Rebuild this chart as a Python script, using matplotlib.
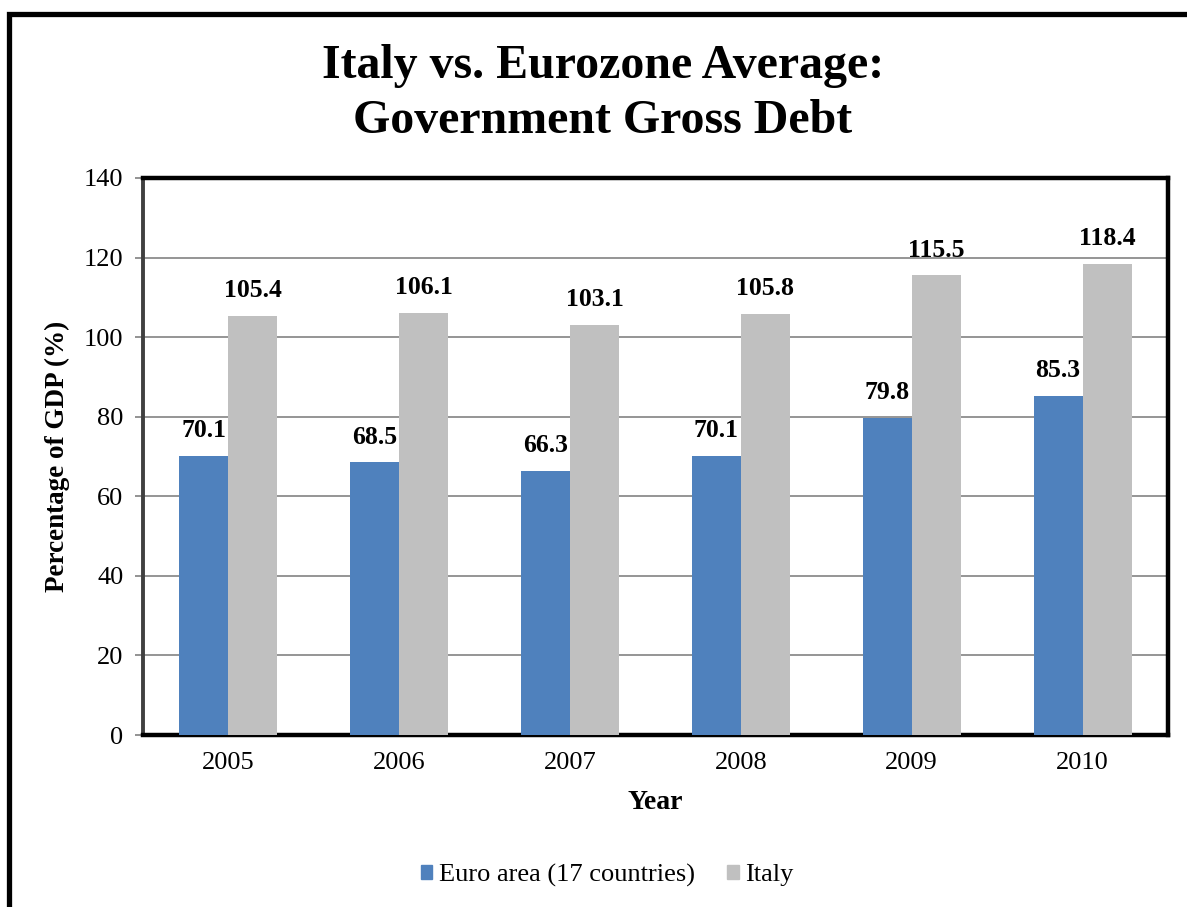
import matplotlib
matplotlib.use("Agg")
import matplotlib.pyplot as plt
import numpy as np
from matplotlib.patches import Rectangle

years = ["2005", "2006", "2007", "2008", "2009", "2010"]
euro_area = [70.1, 68.5, 66.3, 70.1, 79.8, 85.3]
italy = [105.4, 106.1, 103.1, 105.8, 115.5, 118.4]
series_names = ["Euro area (17 countries)", "Italy"]
y_ticks = [0, 20, 40, 60, 80, 100, 120, 140]

BLUE = "#4F81BD"
GRAY = "#C0C0C0"

plt.rcParams["font.family"] = ["Liberation Serif", "DejaVu Serif"]

W, H = 1187, 907
fig = plt.figure(figsize=(W / 100, H / 100), dpi=100)

# axes placement in pixels: left, top, right, bottom
L, T, R, B = 143, 178, 1168, 735
ax = fig.add_axes([L / W, 1 - B / H, (R - L) / W, (B - T) / H])

x = np.arange(len(years))
bw = 0.287
ax.bar(x - bw / 2, euro_area, bw, color=BLUE, zorder=3, label=series_names[0])
ax.bar(x + bw / 2, italy, bw, color=GRAY, zorder=3, label=series_names[1])

for xi, v in zip(x, euro_area):
    ax.annotate(f"{v:.1f}", (xi - bw / 2, v), xytext=(0, 10), textcoords="offset points",
                ha="center", va="bottom", fontsize=18.5, fontweight="bold")
for xi, v in zip(x, italy):
    ax.annotate(f"{v:.1f}", (xi + bw / 2, v), xytext=(0, 10), textcoords="offset points",
                ha="center", va="bottom", fontsize=18.5, fontweight="bold")

ax.set_xlim(-0.5, len(years) - 0.5)
ax.set_ylim(0, 140)
ax.set_yticks(y_ticks)
ax.set_xticks(x)
ax.set_xticklabels(years)
ax.tick_params(axis="y", labelsize=19, length=6, width=1.2, color="#808080", pad=8)
ax.tick_params(axis="x", labelsize=19, length=0, pad=12)
ax.yaxis.grid(True, color="#8C8C8C", linewidth=1.3, zorder=0)
ax.set_axisbelow(True)

for side in ["top", "right", "bottom"]:
    ax.spines[side].set_color("black")
    ax.spines[side].set_linewidth(3.2)
ax.spines["left"].set_color("#404040")
ax.spines["left"].set_linewidth(2.8)

ax.set_ylabel("Percentage of GDP (%)", fontsize=19.5, fontweight="bold", labelpad=10)
ax.set_xlabel("Year", fontsize=20, fontweight="bold", labelpad=12)

fig.text(603 / W, 1 - 66 / H, "Italy vs. Eurozone Average:", ha="center", va="center",
         fontsize=34.5, fontweight="bold")
fig.text(603 / W, 1 - 121 / H, "Government Gross Debt", ha="center", va="center",
         fontsize=34.5, fontweight="bold")

handles = [Rectangle((0, 0), 1, 1, color=BLUE), Rectangle((0, 0), 1, 1, color=GRAY)]
fig.legend(handles, series_names, loc="center", bbox_to_anchor=(607 / W, 1 - 875 / H),
           ncol=2, frameon=False, fontsize=19, handlelength=0.45, handleheight=0.45,
           handletextpad=0.25, columnspacing=1.2)

# outer chart frame
fig.patches.append(Rectangle((9 / W, -0.2), 1.2, 1 - 14 / H + 0.2, transform=fig.transFigure,
                             fill=False, edgecolor="black", linewidth=3.8, clip_on=False))

fig.savefig("out.png", dpi=100)
